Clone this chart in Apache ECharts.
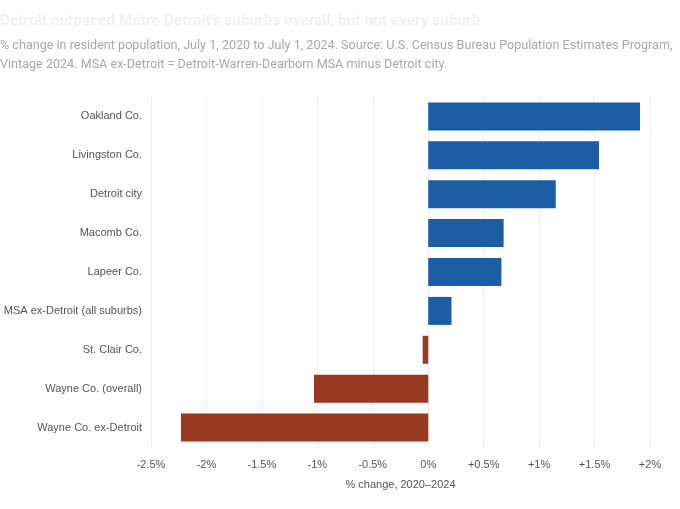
<!DOCTYPE html>
<html style="height: 100%">
<head>
    <meta charset="utf-8">
    <script src="https://cdn.jsdelivr.net/npm/echarts@6/dist/echarts.min.js"></script>
</head>
<body style="height: 100%; margin: 0; background: #fff">
<div id="container" style="width: 680px; height: 509px"></div>
<script type="text/javascript">
    // data
    var places = ['Oakland Co.', 'Livingston Co.', 'Detroit city', 'Macomb Co.', 'Lapeer Co.',
        'MSA ex-Detroit (all suburbs)', 'St. Clair Co.', 'Wayne Co. (overall)', 'Wayne Co. ex-Detroit'];
    var pctChange = [1.91, 1.54, 1.15, 0.68, 0.66, 0.21, -0.05, -1.03, -2.23];
    var tickStep = 0.5;

    var myChart = echarts.init(document.getElementById('container'));
    var option = {
        backgroundColor: '#fff',
        textStyle: {fontFamily: '"Liberation Sans", Arial, sans-serif'},
        title: {
            text: "Detroit outpaced Metro Detroit's suburbs overall, but not every suburb",
            subtext: '% change in resident population, July 1, 2020 to July 1, 2024. Source: U.S. Census Bureau Population Estimates Program,\nVintage 2024. MSA ex-Detroit = Detroit-Warren-Dearborn MSA minus Detroit city.',
            left: 0,
            top: 14,
            padding: 0,
            itemGap: 7,
            textStyle: {color: '#f1f1f1', fontSize: 15.4, fontWeight: 'bold', fontFamily: 'Roboto, sans-serif'},
            subtextStyle: {color: '#a8a8a8', fontSize: 12.6, lineHeight: 19, fontFamily: 'Roboto, sans-serif'}
        },
        grid: {left: 151, right: 30, top: 97, bottom: 62, containLabel: false},
        xAxis: {
            type: 'value',
            min: -2.5,
            max: 2,
            interval: tickStep,
            name: '% change, 2020–2024',
            nameLocation: 'middle',
            nameGap: 32,
            nameTextStyle: {color: '#555', fontSize: 11},
            axisLine: {show: false},
            axisTick: {show: false},
            axisLabel: {
                color: '#555', fontSize: 11, margin: 12,
                formatter: function (v) {
                    if (v === 0) return '0%';
                    return (v > 0 ? '+' : '') + v + '%';
                }
            },
            splitLine: {lineStyle: {color: '#eeeeee'}}
        },
        yAxis: {
            type: 'category',
            data: places,
            inverse: true,
            axisLine: {show: false},
            axisTick: {show: false},
            axisLabel: {color: '#555', fontSize: 11, margin: 9}
        },
        series: [{
            type: 'bar',
            barCategoryGap: '28%',
            data: pctChange.map(function (v) {
                return {value: v, itemStyle: {color: v >= 0 ? '#1b5ea6' : '#973a1f'}};
            })
        }]
    };
    myChart.setOption(option);
</script>
</body>
</html>
